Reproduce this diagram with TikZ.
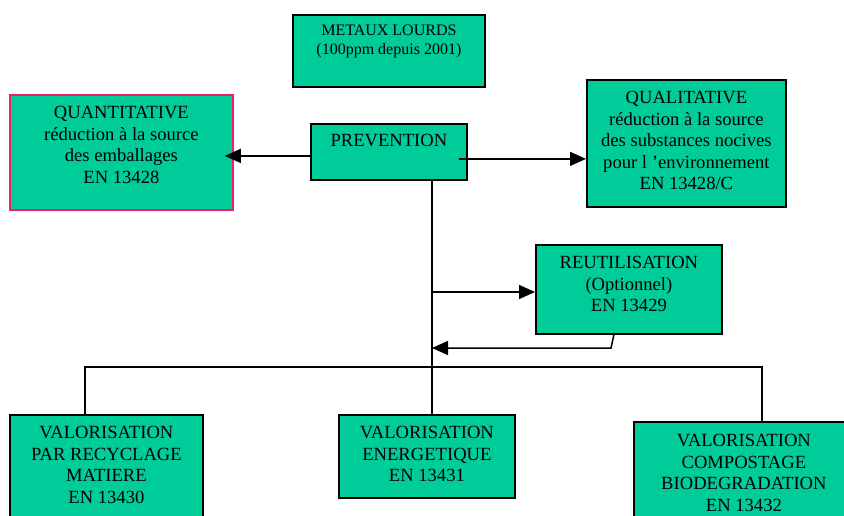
\documentclass[tikz,border=0pt]{standalone}
\usepackage{fontspec}
\setmainfont{Liberation Serif}
\usetikzlibrary{positioning, arrows.meta}
\definecolor{vert}{RGB}{0,204,153}
\definecolor{rose}{RGB}{240,30,110}

\begin{document}
\begin{tikzpicture}[x=1pt, y=-1pt,
  box/.style={draw, fill=vert, line width=1.8pt, anchor=north west, inner sep=0pt},
  txt/.style={align=center, inner sep=0pt, font=\fontsize{18.6}{21.5}\selectfont},
  petit/.style={font=\fontsize{16}{19}\selectfont},
  lien/.style={line width=1.5pt},
  arr/.style={lien, -{Triangle[length=16pt, width=14pt]}}
]
\useasboundingbox (0,0) rectangle (844,516);
\clip (0,0) rectangle (844,516);

% boites
\node[box, minimum width=192pt, minimum height=72pt] (metaux) at (292,14) {};
\node[box, draw=rose, minimum width=223pt, minimum height=115pt] (quanti) at (9,94) {};
\node[box, minimum width=156pt, minimum height=56pt] (prev) at (310,123) {};
\node[box, minimum width=199pt, minimum height=127pt] (quali) at (586,79) {};
\node[box, minimum width=186pt, minimum height=89pt] (reutil) at (535,244) {};
\node[box, minimum width=193pt, minimum height=120pt] (recyc) at (9,414) {};
\node[box, minimum width=176pt, minimum height=83pt] (energ) at (338,414) {};
\node[box, minimum width=220pt, minimum height=120pt] (compost) at (633,421) {};

% textes
\node[txt, petit, below=11pt of metaux.north] (metaux-t) {METAUX LOURDS\\(100ppm depuis 2001)};
\node[txt, below=12pt of quanti.north] (quanti-t) {QUANTITATIVE\\réduction à la source\\des emballages\\EN 13428};
\node[txt, below=11pt of prev.north] (prev-t) {PREVENTION};
\node[txt, below=12pt of quali.north] (quali-t) {QUALITATIVE\\réduction à la source\\des substances nocives\\pour l ’environnement\\EN 13428/C};
\node[txt, below=12pt of reutil.north] (reutil-t) {REUTILISATION\\(Optionnel)\\EN 13429};
\node[txt, below=12pt of recyc.north] (recyc-t) {VALORISATION\\PAR RECYCLAGE\\MATIERE\\EN 13430};
\node[txt, below=12pt of energ.north] (energ-t) {VALORISATION\\ENERGETIQUE\\EN 13431};
\node[txt, below=13pt of compost.north] (compost-t) {VALORISATION\\COMPOSTAGE\\BIODEGRADATION\\EN 13432};

% liaisons
\coordinate (tronc) at (432,0);
\coordinate (dg) at ([yshift=-4pt]prev.west);
\coordinate (dq) at ([xshift=-9pt, yshift=-7pt]prev.east);
\coordinate (ru) at (432,292);
\coordinate (rr) at (611,348);
\coordinate (busg) at (85,367);
\coordinate (busd) at (762,367);

\draw[arr, shorten >=-9pt] (dg) -- (dg -| quanti.east);
\draw[arr] (dq) -- (dq -| quali.west);
\draw[lien] (prev.south -| tronc) -- (energ.north -| tronc);
\draw[arr] (ru) -- (ru -| reutil.west);
\draw[arr] ([xshift=-15pt]reutil.south) -- (rr) -- (rr -| tronc);
\draw[lien] (busg |- recyc.north) -- (busg) -- (busd) -- (busd |- compost.north);
\end{tikzpicture}
\end{document}
